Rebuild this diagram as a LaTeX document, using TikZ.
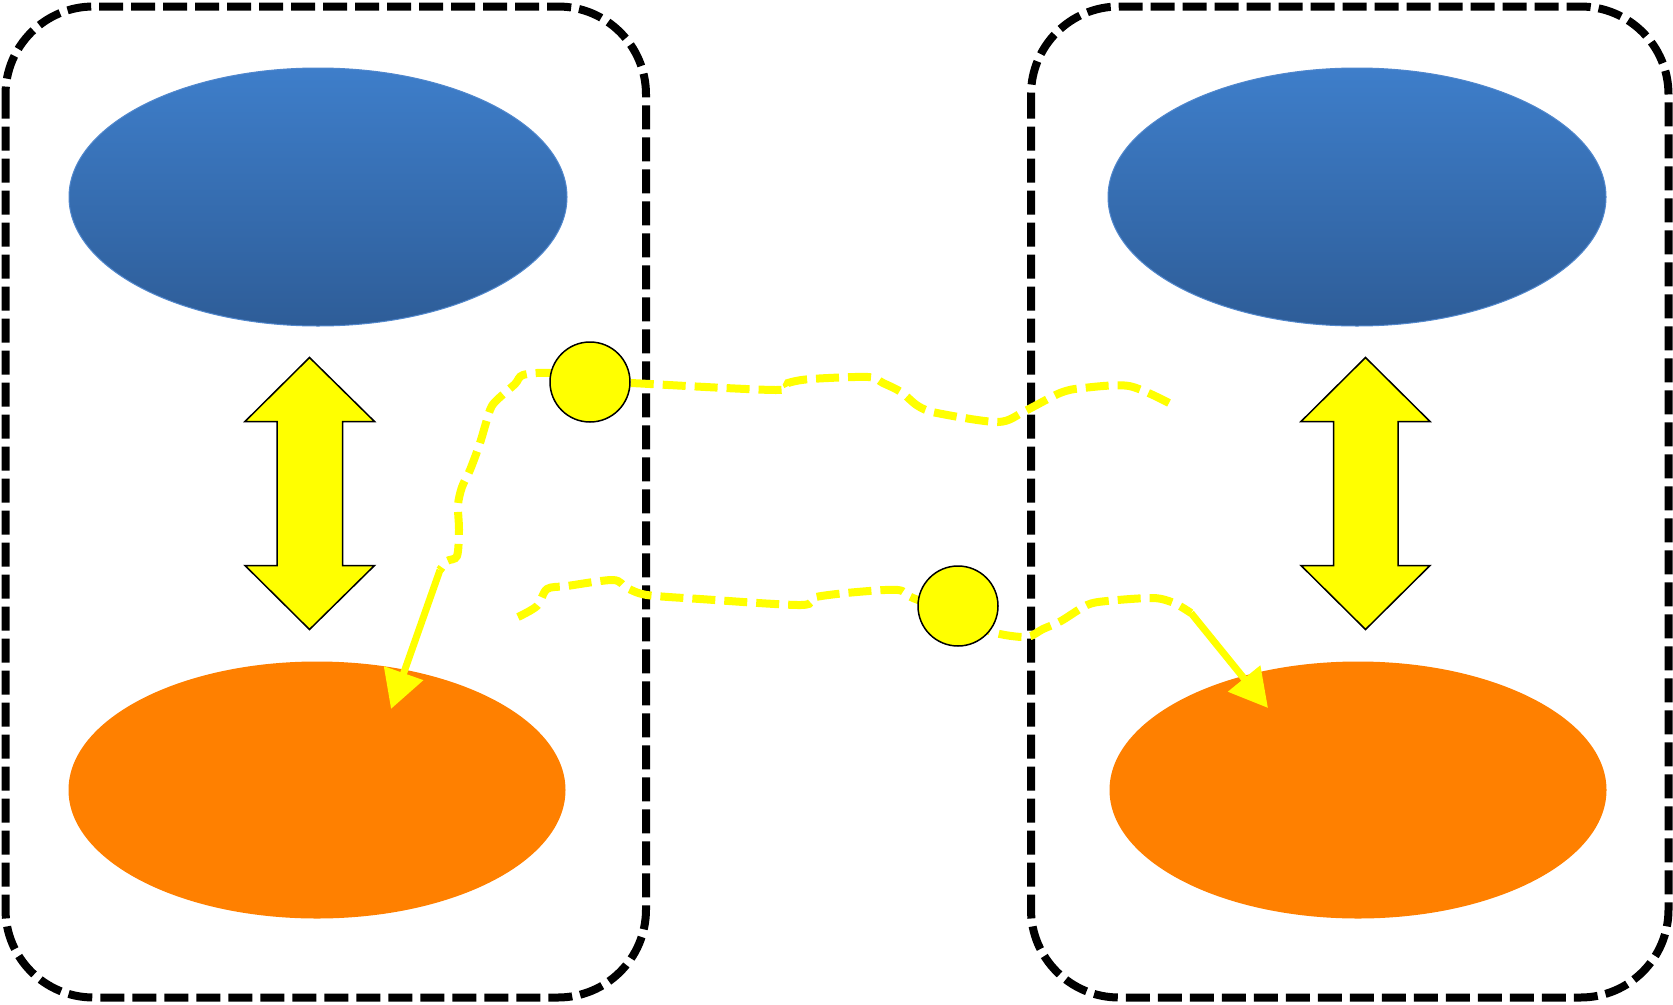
\documentclass[tikz,border=0pt]{standalone}
\usetikzlibrary{arrows.meta,shapes.geometric}
\definecolor{bluetop}{RGB}{62,126,202}
\definecolor{bluebot}{RGB}{46,93,152}
\definecolor{blueedge}{RGB}{80,135,205}
\definecolor{orangefill}{RGB}{255,128,0}
\definecolor{yel}{RGB}{255,255,0}
\begin{document}
\begin{tikzpicture}[x=1pt,y=-1pt,
  groupbox/.style={draw=black, line width=8pt, dash pattern=on 24pt off 8pt, rounded corners=88pt},
  blueell/.style={ellipse, minimum width=498pt, minimum height=258pt, inner sep=0pt,
     top color=bluetop, bottom color=bluebot, draw=blueedge, line width=1pt},
  orangeell/.style={ellipse, minimum width=497pt, minimum height=257pt, inner sep=0pt,
     fill=orangefill},
  dblarrow/.style={fill=yel, draw=black, line width=1.5pt, line join=miter},
  ypath/.style={draw=yel, line width=8pt, dash pattern=on 23pt off 9pt},
  ysolid/.style={draw=yel, line width=7pt, -{Triangle[length=38pt,width=40pt]}},
  dot/.style={circle, minimum size=80pt, inner sep=0pt, fill=yel, draw=black, line width=1.5pt}]
\useasboundingbox (0,0) rectangle (1673,1004);
\fill[white] (0,0) rectangle (1673,1004);

% group boxes
\draw[groupbox] (5.5,6.5) rectangle (646,997.5);
\draw[groupbox] (1031,6.5) rectangle (1668.5,997.5);

% ellipses
\node[blueell] (b1) at (318,197) {};
\node[blueell] (b2) at (1357,197) {};
\node[orangeell] (o1) at (317,790) {};
\node[orangeell] (o2) at (1358,790) {};

% double arrows
\draw[dblarrow] (309.5,357.5) -- (374.5,421.5) -- (342.5,421.5) -- (342.5,565.5) -- (374.5,565.5)
   -- (309.5,629.5) -- (245,565.5) -- (277,565.5) -- (277,421.5) -- (245,421.5) -- cycle;
\draw[dblarrow] (1365.5,357.5) -- (1430,421.5) -- (1398,421.5) -- (1398,565.5) -- (1430,565.5)
   -- (1365.5,629.5) -- (1301,565.5) -- (1333.5,565.5) -- (1333.5,421.5) -- (1301,421.5) -- cycle;

% path coordinates
\coordinate (t0) at (1169,403);
\coordinate (t1) at (440,570);
\coordinate (t2) at (391,709);
\coordinate (s0) at (518,617);
\coordinate (s1) at (1191,613);
\coordinate (s2) at (1268,708);

% top yellow path
\draw[ypath] plot[smooth, tension=0.5] coordinates {(t0) (1129,386) (1083,388) (1060,393) (1025,411)
  (998,422) (937,413) (918,406) (901,392) (883,383) (868,377) (811,379) (788,383) (776,390)
  (631,383) (590,381) (550,373) (523,375) (515,384) (497,400) (490,410) (480,443) (470,470)
  (462,487) (458,505) (459,530) (457,556) (447,561) (t1)};
\draw[ysolid] (t1) -- (t2);

% bottom yellow path
\draw[ypath] plot[smooth, tension=0.5] coordinates {(s0) (537,606) (547,589) (567,586) (613,580)
  (627,588) (647,595) (700,599) (801,605) (816,597) (857,592) (898,590) (913,598) (958,615)
  (992,632) (1026,637) (1043,629) (1061,621) (1087,605) (1107,601) (1153,598) (1174,603) (s1)};
\draw[ysolid] (s1) -- (s2);

% circles
\node[dot] (c1) at (590,382) {};
\node[dot] (c2) at (958,606) {};
\end{tikzpicture}
\end{document}
